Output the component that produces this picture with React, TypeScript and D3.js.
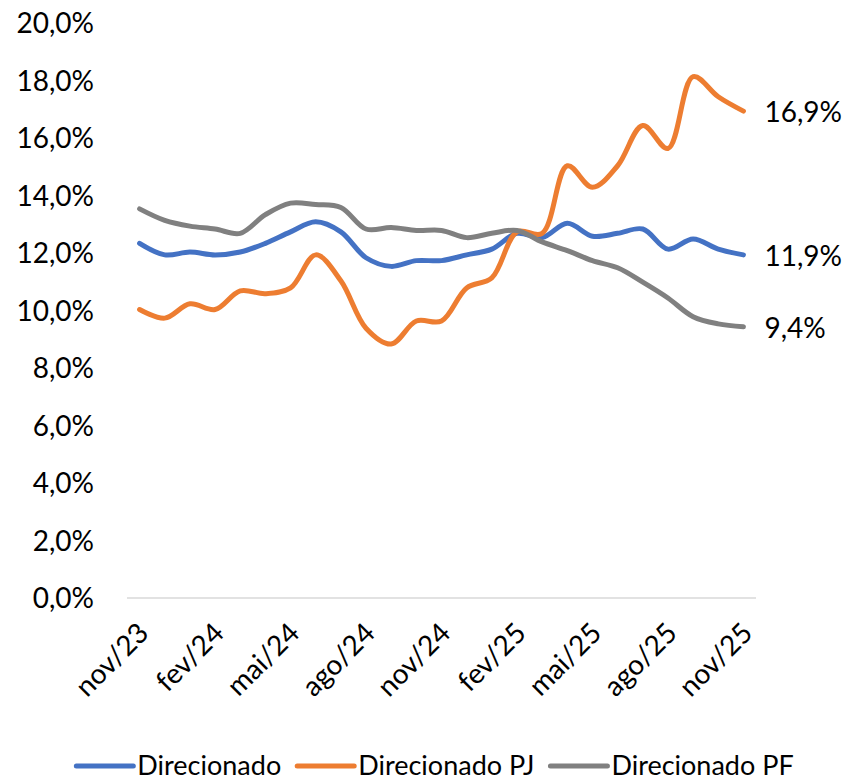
import * as d3 from 'd3';
import { useEffect, useRef } from 'react';

const months = [
  'nov/23', 'dez/23', 'jan/24', 'fev/24', 'mar/24', 'abr/24', 'mai/24', 'jun/24', 'jul/24',
  'ago/24', 'set/24', 'out/24', 'nov/24', 'dez/24', 'jan/25', 'fev/25', 'mar/25', 'abr/25',
  'mai/25', 'jun/25', 'jul/25', 'ago/25', 'set/25', 'out/25', 'nov/25',
];

const tickLabels = ['nov/23', 'fev/24', 'mai/24', 'ago/24', 'nov/24', 'fev/25', 'mai/25', 'ago/25', 'nov/25'];

const direcionado = [
  12.3, 11.9, 12.0, 11.9, 12.0, 12.3, 12.7, 13.05, 12.7, 11.8, 11.5, 11.7, 11.7,
  11.9, 12.1, 12.65, 12.5, 13.0, 12.55, 12.65, 12.8, 12.1, 12.45, 12.1, 11.9,
];

const direcionadoPJ = [
  10.0, 9.7, 10.2, 10.0, 10.65, 10.55, 10.75, 11.9, 11.0, 9.35, 8.8, 9.6, 9.6,
  10.75, 11.1, 12.7, 12.65, 15.0, 14.25, 15.0, 16.4, 15.6, 18.1, 17.4, 16.9,
];

const direcionadoPF = [
  13.5, 13.1, 12.9, 12.8, 12.65, 13.3, 13.7, 13.65, 13.55, 12.8, 12.85, 12.75, 12.75,
  12.5, 12.65, 12.75, 12.35, 12.05, 11.7, 11.45, 10.95, 10.4, 9.75, 9.5, 9.4,
];

const yTicks = [0, 2, 4, 6, 8, 10, 12, 14, 16, 18, 20];

const series = [
  { name: 'Direcionado', values: direcionado, color: '#4472C4' },
  { name: 'Direcionado PJ', values: direcionadoPJ, color: '#ED7D31' },
  { name: 'Direcionado PF', values: direcionadoPF, color: '#808080' },
];

const dimensions = {
  width: 846,
  height: 781,
  left: 127,
  right: 756,
  top: 22,
  bottom: 597,
};

const font = 'Lato, "Open Sans", sans-serif';
const fmt = (v: number) => v.toFixed(1).replace('.', ',') + '%';

export default function App() {
  const svgRef = useRef(null);

  useEffect(() => {
    document.body.style.margin = '0';
    const svg = d3.select(svgRef.current);
    svg.selectAll('*').remove();

    const xScale = d3
      .scalePoint()
      .domain(months)
      .range([dimensions.left, dimensions.right])
      .padding(0.5);

    const yScale = d3
      .scaleLinear()
      .domain([0, 20])
      .range([dimensions.bottom, dimensions.top]);

    // y labels
    svg
      .append('g')
      .selectAll('text')
      .data(yTicks)
      .enter()
      .append('text')
      .attr('x', 94)
      .attr('y', (d) => yScale(d))
      .attr('text-anchor', 'end')
      .attr('dominant-baseline', 'central')
      .style('font-family', font)
      .style('font-size', '28px')
      .style('fill', '#000')
      .text((d) => fmt(d));

    // x axis line
    svg
      .append('line')
      .attr('x1', dimensions.left)
      .attr('x2', dimensions.right)
      .attr('y1', yScale(0) + 1)
      .attr('y2', yScale(0) + 1)
      .style('stroke', '#D9D9D9')
      .style('stroke-width', 1.5);

    // x labels
    svg
      .append('g')
      .selectAll('text')
      .data(tickLabels)
      .enter()
      .append('text')
      .attr('text-anchor', 'end')
      .attr('dominant-baseline', 'central')
      .attr('transform', (d) => 'translate(' + ((xScale(d) as number) + 3) + ',627)rotate(-45)')
      .style('font-family', font)
      .style('font-size', '28px')
      .style('fill', '#000')
      .text((d) => d);

    const line = d3
      .line<number>()
      .x((d, i) => xScale(months[i]) as number)
      .y((d) => yScale(d))
      .curve(d3.curveCatmullRom.alpha(0.5));

    series.forEach((s) => {
      svg
        .append('path')
        .datum(s.values)
        .attr('d', line as any)
        .style('fill', 'none')
        .style('stroke', s.color)
        .style('stroke-width', 5)
        .style('stroke-linecap', 'round')
        .style('stroke-linejoin', 'round');

      const last = s.values[s.values.length - 1];
      svg
        .append('text')
        .attr('x', (xScale(months[months.length - 1]) as number) + 21)
        .attr('y', yScale(last))
        .attr('dominant-baseline', 'central')
        .style('font-family', font)
        .style('font-size', '28px')
        .style('fill', '#000')
        .text(fmt(last));
    });

    // legend
    const legend = svg.append('g');
    const items = series.map((s) => {
      const g = legend.append('g');
      g.append('line')
        .attr('x1', 0)
        .attr('x2', 57)
        .attr('y1', -9)
        .attr('y2', -9)
        .style('stroke', s.color)
        .style('stroke-width', 5)
        .style('stroke-linecap', 'round');
      const t = g
        .append('text')
        .attr('x', 61)
        .attr('y', 0)
        .style('font-family', font)
        .style('font-size', '27px')
        .style('fill', '#000')
        .text(s.name);
      const w = 61 + (t.node() as SVGTextElement).getComputedTextLength();
      return { g, w };
    });
    const gap = 16;
    const total = d3.sum(items, (d) => d.w) + gap * (items.length - 1);
    let x = 435 - total / 2;
    items.forEach((it) => {
      it.g.attr('transform', 'translate(' + x + ',775)');
      x += it.w + gap;
    });
  }, []);

  return (
    <div>
      <svg
        ref={svgRef}
        width={dimensions.width}
        height={dimensions.height}
        style={{ display: 'block', background: '#fff' }}
      ></svg>
    </div>
  );
}
